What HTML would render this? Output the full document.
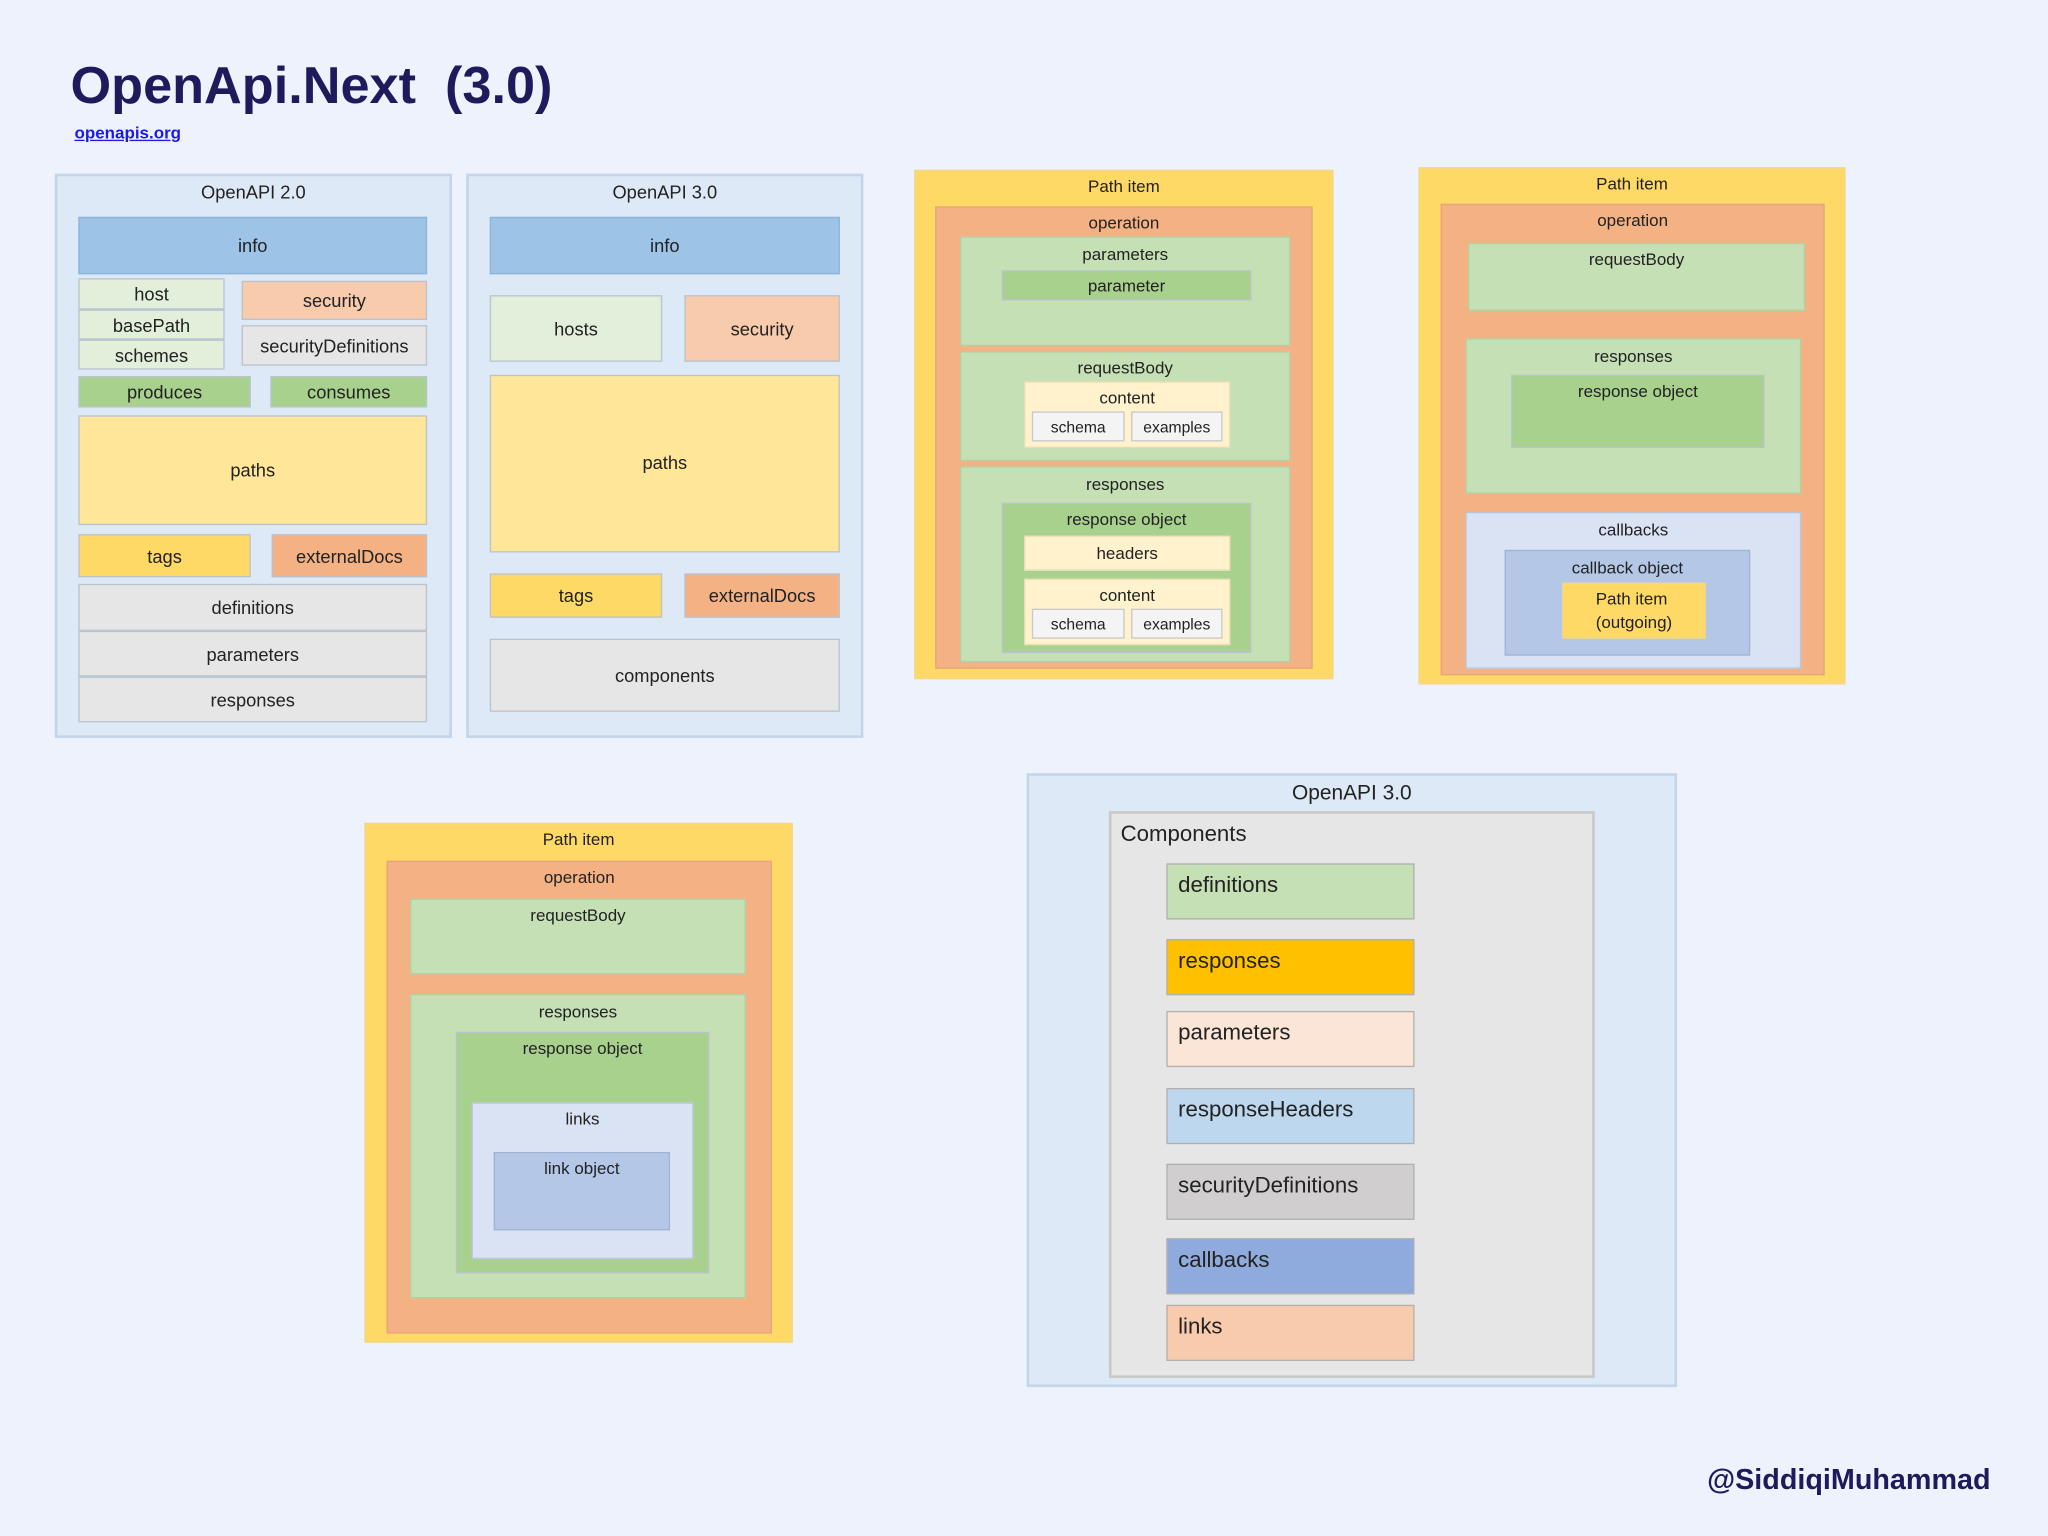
<!DOCTYPE html>
<html><head><meta charset="utf-8"><style>
html,body{margin:0;padding:0;}
body{width:2048px;height:1536px;overflow:hidden;background:#eef2fc;}
#w{position:absolute;left:0;top:0;width:1568px;height:1176px;transform:scale(1.30612);transform-origin:0 0;font-family:"Liberation Sans","DejaVu Sans",sans-serif;color:#222;}
.b{position:absolute;box-sizing:border-box;border:1px solid #b9c3cf;font-size:14px;}
.c{display:flex;align-items:center;justify-content:center;}
.t{text-align:center;padding-top:4px;}
.pb{background:#dde9f6;border:2px solid #c4d5ea;}
.inf{background:#9dc3e6;border-color:#8eb2d8;}
.lg{background:#e2efda;}
.pe{background:#f8cbad;}
.gr{background:#a9d18e;}
.ye{background:#ffe699;}
.yd{background:#ffd966;}
.ed{background:#f4b183;}
.gy{background:#e6e6e6;}
.pi{background:#ffd966;border-color:#f2d58a;font-size:13px;}
.op{background:#f4b183;border-color:#e6a57a;font-size:13px;}
.g2{background:#c5e0b4;border-color:#b3cfa2;font-size:13px;}
.cr{background:#fff2cc;border-color:#e8dcb4;font-size:13px;}
.wh{background:#f4f4f4;border-color:#c8c8c8;font-size:12px;}
.bl{background:#dae3f3;border-color:#b8c5dc;font-size:13px;}
.bd{background:#b4c7e7;border-color:#9fb3d6;font-size:13px;}
.ci{font-size:17px;padding:6px 8px;border-color:#b0b0b0;}
</style></head><body><div id="w">
<div style="position:absolute;left:54px;top:44px;font-size:40px;font-weight:bold;color:#1f1a5c;white-space:pre">OpenApi.Next  (3.0)</div>
<div style="position:absolute;left:57px;top:94px;font-size:13px;font-weight:bold;color:#1a1aee;text-decoration:underline">openapis.org</div>

<!-- panel 1 -->
<div class="b pb t" style="left:42px;top:133px;width:304px;height:432px;">OpenAPI 2.0</div>
<div class="b c inf" style="left:60px;top:166px;width:267px;height:44px;">info</div>
<div class="b c lg" style="left:60px;top:213px;width:112px;height:24px;">host</div>
<div class="b c lg" style="left:60px;top:237px;width:112px;height:23px;">basePath</div>
<div class="b c lg" style="left:60px;top:260px;width:112px;height:23px;">schemes</div>
<div class="b c pe" style="left:185px;top:215px;width:142px;height:30px;">security</div>
<div class="b c gy" style="left:185px;top:249px;width:142px;height:31px;">securityDefinitions</div>
<div class="b c gr" style="left:60px;top:288px;width:132px;height:24px;">produces</div>
<div class="b c gr" style="left:207px;top:288px;width:120px;height:24px;">consumes</div>
<div class="b c ye" style="left:60px;top:318px;width:267px;height:84px;">paths</div>
<div class="b c yd" style="left:60px;top:409px;width:132px;height:33px;">tags</div>
<div class="b c ed" style="left:208px;top:409px;width:119px;height:33px;">externalDocs</div>
<div class="b c gy" style="left:60px;top:447px;width:267px;height:36px;">definitions</div>
<div class="b c gy" style="left:60px;top:483px;width:267px;height:35px;">parameters</div>
<div class="b c gy" style="left:60px;top:518px;width:267px;height:35px;">responses</div>

<!-- panel 2 -->
<div class="b pb t" style="left:357px;top:133px;width:304px;height:432px;">OpenAPI 3.0</div>
<div class="b c inf" style="left:375px;top:166px;width:268px;height:44px;">info</div>
<div class="b c lg" style="left:375px;top:226px;width:132px;height:51px;">hosts</div>
<div class="b c pe" style="left:524px;top:226px;width:119px;height:51px;">security</div>
<div class="b c ye" style="left:375px;top:287px;width:268px;height:136px;padding-bottom:6px;align-items:flex-start;padding-top:58px;">paths</div>
<div class="b c yd" style="left:375px;top:439px;width:132px;height:34px;">tags</div>
<div class="b c ed" style="left:524px;top:439px;width:119px;height:34px;">externalDocs</div>
<div class="b c gy" style="left:375px;top:489px;width:268px;height:56px;">components</div>

<!-- panel 3 -->
<div class="b pi t" style="left:700px;top:130px;width:321px;height:390px;">Path item</div>
<div class="b op t" style="left:716px;top:158px;width:289px;height:354px;">operation</div>
<div class="b g2 t" style="left:735px;top:181px;width:253px;height:84px;padding-top:5px;">parameters</div>
<div class="b c gr" style="left:767px;top:207px;width:191px;height:23px;font-size:13px;">parameter</div>
<div class="b g2 t" style="left:735px;top:269px;width:253px;height:84px;padding-top:4px;">requestBody</div>
<div class="b cr t" style="left:784px;top:292px;width:158px;height:51px;padding-top:4px;">content</div>
<div class="b c wh" style="left:790px;top:315px;width:71px;height:23px;">schema</div>
<div class="b c wh" style="left:866px;top:315px;width:70px;height:23px;">examples</div>
<div class="b g2 t" style="left:735px;top:357px;width:253px;height:150px;padding-top:5px;">responses</div>
<div class="b gr t" style="left:767px;top:385px;width:191px;height:115px;font-size:13px;padding-top:4px;">response object</div>
<div class="b c cr" style="left:784px;top:410px;width:158px;height:27px;">headers</div>
<div class="b cr t" style="left:784px;top:443px;width:158px;height:51px;padding-top:4px;">content</div>
<div class="b c wh" style="left:790px;top:466px;width:71px;height:23px;">schema</div>
<div class="b c wh" style="left:866px;top:466px;width:70px;height:23px;">examples</div>

<!-- panel 4 -->
<div class="b pi t" style="left:1086px;top:128px;width:327px;height:396px;">Path item</div>
<div class="b op t" style="left:1103px;top:156px;width:294px;height:361px;">operation</div>
<div class="b g2 t" style="left:1124px;top:186px;width:258px;height:52px;">requestBody</div>
<div class="b g2 t" style="left:1122px;top:259px;width:257px;height:119px;padding-top:5px;">responses</div>
<div class="b gr t" style="left:1157px;top:287px;width:194px;height:56px;font-size:13px;">response object</div>
<div class="b bl t" style="left:1122px;top:392px;width:257px;height:120px;padding-top:5px;">callbacks</div>
<div class="b bd t" style="left:1152px;top:421px;width:188px;height:81px;padding-top:5px;">callback object</div>
<div class="b pi c" style="left:1196px;top:446px;width:110px;height:43px;flex-direction:column;line-height:18px;">Path item<br>(outgoing)</div>

<!-- panel 5 -->
<div class="b pi t" style="left:279px;top:630px;width:328px;height:398px;">Path item</div>
<div class="b op t" style="left:296px;top:659px;width:295px;height:362px;">operation</div>
<div class="b g2 t" style="left:314px;top:688px;width:257px;height:58px;">requestBody</div>
<div class="b g2 t" style="left:314px;top:761px;width:257px;height:233px;padding-top:5px;">responses</div>
<div class="b gr t" style="left:349px;top:790px;width:194px;height:185px;font-size:13px;padding-top:4px;">response object</div>
<div class="b bl t" style="left:361px;top:844px;width:170px;height:120px;padding-top:4px;">links</div>
<div class="b bd t" style="left:378px;top:882px;width:135px;height:60px;">link object</div>

<!-- panel 6 -->
<div class="b t" style="left:786px;top:592px;width:498px;height:470px;background:#dde9f6;border:2px solid #c4d5ea;font-size:16px;padding-top:5px;">OpenAPI 3.0</div>
<div class="b" style="left:849px;top:621px;width:372px;height:434px;background:#e7e6e6;border:2px solid #c9c9c9;font-size:17px;padding:6px 7px;">Components</div>
<div class="b ci" style="left:893px;top:661px;width:190px;height:43px;background:#c5e0b4;">definitions</div>
<div class="b ci" style="left:893px;top:719px;width:190px;height:43px;background:#ffc000;">responses</div>
<div class="b ci" style="left:893px;top:774px;width:190px;height:43px;background:#fbe5d6;">parameters</div>
<div class="b ci" style="left:893px;top:833px;width:190px;height:43px;background:#bdd7ee;">responseHeaders</div>
<div class="b ci" style="left:893px;top:891px;width:190px;height:43px;background:#d0cece;">securityDefinitions</div>
<div class="b ci" style="left:893px;top:948px;width:190px;height:43px;background:#8faadc;">callbacks</div>
<div class="b ci" style="left:893px;top:999px;width:190px;height:43px;background:#f8cbad;">links</div>

<div style="position:absolute;left:1307px;top:1120px;font-size:22px;font-weight:bold;color:#1f1a5c;">@SiddiqiMuhammad</div>
</div></body></html>
